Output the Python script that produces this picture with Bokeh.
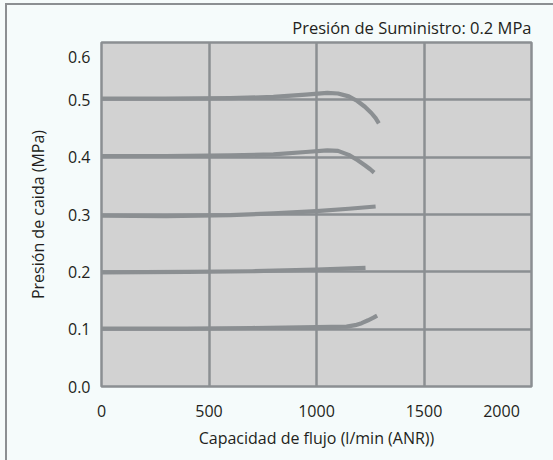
from bokeh.plotting import figure
from bokeh.models import FixedTicker, Range1d, PrintfTickFormatter
from bokeh.embed import file_html
from bokeh.resources import INLINE

# ---- data ----
x_ticks = [0, 500, 1000, 1500, 2000]
y_ticks = [0.0, 0.1, 0.2, 0.3, 0.4, 0.5, 0.6]

c05_x = [0, 300, 600, 800, 950, 1050, 1100, 1150, 1190, 1225, 1255, 1275, 1290]
c05_y = [0.502, 0.502, 0.503, 0.505, 0.509, 0.512, 0.511, 0.506, 0.498, 0.488, 0.477, 0.468, 0.459]

c04_x = [0, 300, 600, 800, 950, 1050, 1100, 1150, 1190, 1225, 1250, 1268]
c04_y = [0.402, 0.402, 0.403, 0.405, 0.409, 0.412, 0.411, 0.404, 0.395, 0.386, 0.379, 0.373]

c03_x = [0, 300, 600, 800, 1000, 1150, 1275]
c03_y = [0.298, 0.297, 0.299, 0.302, 0.306, 0.310, 0.314]

c02_x = [0, 400, 700, 1000, 1228]
c02_y = [0.199, 0.200, 0.201, 0.204, 0.207]

c01_x = [0, 400, 700, 1000, 1140, 1180, 1210, 1240, 1265, 1282]
c01_y = [0.101, 0.101, 0.102, 0.1035, 0.1045, 0.107, 0.1105, 0.1155, 0.120, 0.1235]

curves = [(c05_x, c05_y), (c04_x, c04_y), (c03_x, c03_y), (c02_x, c02_y), (c01_x, c01_y)]

title_text = "Presión de Suministro: 0.2 MPa"
x_label = "Capacidad de flujo (l/min (ANR))"
y_label = "Presión de caida (MPa)"

# ---- style ----
FONT = "Open Sans"
TXT = "#231f20"
GRID = "#8b8f92"
BG = "#f5fbfb"
FRAME = "#d2d2d2"

W, H = 553, 460
FL, FT, FR, FB = 101, 42, 22, 74     # frame borders in px
frame_w = W - FL - FR
frame_h = H - FT - FB

p = figure(width=W, height=H, output_backend="svg", toolbar_location=None,
           x_range=Range1d(x_ticks[0], x_ticks[-1]), y_range=Range1d(y_ticks[0], y_ticks[-1]),
           min_border_left=FL, min_border_right=FR, min_border_top=FT, min_border_bottom=FB)

p.background_fill_color = FRAME
p.border_fill_color = None
# outer panel: light background with a grey border on its left and top edges
p.styles = {
    "background-color": BG,
    "background-image": (
        f"linear-gradient(to right, transparent 5px, {GRID} 5px, {GRID} 7px, transparent 7px),"
        f"linear-gradient(to bottom, transparent 3px, {GRID} 3px, {GRID} 5px, transparent 5px)"
    ),
    "background-size": "100% 100%, 100% 100%",
    "background-position": "0 3px, 5px 0",
    "background-repeat": "no-repeat",
}
p.outline_line_color = GRID
p.outline_line_width = 2.5

p.title.text = title_text
p.title.align = "right"
p.title.text_font = FONT
p.title.text_font_size = "16.5px"
p.title.text_font_style = "normal"
p.title.text_color = TXT
p.title.standoff = 8

for ax in (p.xaxis[0], p.yaxis[0]):
    ax.axis_line_color = None
    ax.major_tick_line_color = None
    ax.minor_tick_line_color = None
    ax.major_label_text_font = FONT
    ax.major_label_text_font_size = "16px"
    ax.major_label_text_color = TXT
    ax.axis_label_text_font = FONT
    ax.axis_label_text_font_size = "16px"
    ax.axis_label_text_font_style = "normal"
    ax.axis_label_text_color = TXT

# the last tick label on each axis is drawn displaced inward, as in the reference
x_lab_pos = x_ticks[:-1] + [x_ticks[-1] - 30 * (x_ticks[-1] - x_ticks[0]) / frame_w]
y_lab_pos = y_ticks[:-1] + [y_ticks[-1] - 14 * (y_ticks[-1] - y_ticks[0]) / frame_h]
p.xaxis.ticker = FixedTicker(ticks=x_lab_pos)
p.yaxis.ticker = FixedTicker(ticks=y_lab_pos)
p.yaxis.formatter = PrintfTickFormatter(format="%.1f")
p.xaxis.major_label_overrides = {x_lab_pos[-1]: str(x_ticks[-1])}
p.yaxis.major_label_overrides = {y_lab_pos[-1]: f"{y_ticks[-1]:.1f}"}

p.xaxis.axis_label = x_label
p.yaxis.axis_label = y_label
p.xaxis.major_label_standoff = 12
p.yaxis.major_label_standoff = 5
p.xaxis.axis_label_standoff = 7
p.yaxis.axis_label_standoff = 16

p.xgrid.ticker = FixedTicker(ticks=x_ticks)
p.ygrid.ticker = FixedTicker(ticks=y_ticks)
for g in (p.xgrid[0], p.ygrid[0]):
    g.grid_line_color = GRID
    g.grid_line_width = 2.5

for cx, cy in curves:
    p.line(cx, cy, line_color=GRID, line_width=4.2, line_join="round")

open("out.html", "w").write(file_html(p, INLINE))
